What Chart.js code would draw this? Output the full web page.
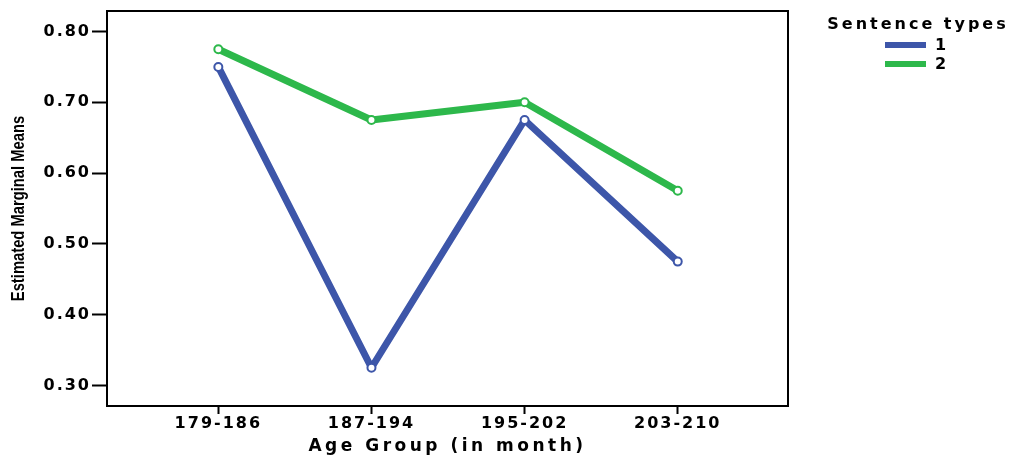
<!DOCTYPE html>
<html lang="en"><head>
<meta charset="UTF-8" />
<title>Estimated Marginal Means</title>
<script src="https://cdn.jsdelivr.net/npm/chart.js"></script>
<style>
  * { margin: 0; padding: 0; box-sizing: border-box; }
  body { background: #fff; width: 1012px; height: 455px; overflow: hidden; }
  #wrap { position: relative; width: 1012px; height: 455px; }
</style>
</head>
<body>
<div id="wrap"><canvas id="emmChart" width="1012" height="455"></canvas></div>
<script>
  const ageGroups = ['179-186', '187-194', '195-202', '203-210'];
  const sentenceType1 = [0.75, 0.325, 0.675, 0.475];
  const sentenceType2 = [0.775, 0.675, 0.70, 0.575];
  const yTicks = [0.30, 0.40, 0.50, 0.60, 0.70, 0.80];
  const seriesNames = ['1', '2'];
  const seriesColors = ['#3d56a9', '#2db84b'];

  const tickFont = { family: 'DejaVu Sans', size: 16, weight: 'bold' };

  // box around plot, wide-spaced text, y title and legend
  const frame = {
    id: 'frame',
    beforeDraw(chart) { chart.ctx.letterSpacing = '3.5px'; },
    beforeDatasetsDraw(chart) {
      const { ctx, chartArea: a } = chart;
      ctx.save();
      ctx.strokeStyle = '#000';
      ctx.lineWidth = 2;
      ctx.strokeRect(a.left, a.top, a.right - a.left, a.bottom - a.top);
      ctx.restore();
    },
    afterDatasetsDraw(chart) { chart.ctx.letterSpacing = '2px'; },
    afterDraw(chart) {
      const { ctx, chartArea: a } = chart;
      ctx.save();
      ctx.letterSpacing = '0px';
      ctx.fillStyle = '#000';
      ctx.font = 'bold 18px "Liberation Sans"';
      ctx.textAlign = 'center';
      ctx.textBaseline = 'middle';
      ctx.translate(19, (a.top + a.bottom) / 2);
      ctx.rotate(-Math.PI / 2);
      ctx.scale(0.82, 1);
      ctx.fillText('Estimated Marginal Means', 0, 0);
      ctx.restore();

      ctx.save();
      ctx.letterSpacing = '3px';
      ctx.fillStyle = '#000';
      ctx.font = 'bold 16px "DejaVu Sans"';
      ctx.textAlign = 'center';
      ctx.textBaseline = 'middle';
      ctx.fillText('Sentence types', 918, 25);
      ctx.letterSpacing = '2px';
      ctx.textAlign = 'left';
      chart.data.datasets.forEach((ds, i) => {
        const y = 45 + i * 19;
        ctx.strokeStyle = ds.borderColor;
        ctx.lineWidth = 6;
        ctx.beginPath();
        ctx.moveTo(885, y);
        ctx.lineTo(926, y);
        ctx.stroke();
        ctx.fillText(ds.label, 935, y + 1);
      });
      ctx.restore();
      ctx.letterSpacing = '0px';
    }
  };

  new Chart(document.getElementById('emmChart'), {
    type: 'line',
    data: {
      datasets: [sentenceType1, sentenceType2].map((vals, k) => ({
        label: seriesNames[k],
        data: vals.map((v, i) => ({ x: i, y: v })),
        borderColor: seriesColors[k],
        borderWidth: 7,
        borderJoinStyle: 'round',
        borderCapStyle: 'round',
        backgroundColor: '#fff',
        pointRadius: 4,
        pointBorderWidth: 2,
        pointBackgroundColor: '#fff',
        pointBorderColor: seriesColors[k],
        tension: 0
      }))
    },
    options: {
      responsive: false,
      animation: false,
      layout: { padding: { top: 11, right: 224, bottom: 0, left: 0 } },
      plugins: { legend: { display: false }, tooltip: { enabled: false } },
      scales: {
        x: {
          type: 'linear', min: -0.727, max: 3.72,
          afterBuildTicks: s => { s.ticks = ageGroups.map((_, i) => ({ value: i })); },
          afterFit: s => { s.height = 49; },
          grid: { drawOnChartArea: false, drawTicks: true, tickLength: 8, tickWidth: 2, tickColor: '#000' },
          border: { display: false },
          ticks: { z: 1, padding: 0, color: '#000', font: tickFont, maxRotation: 0, autoSkip: false,
                   callback: v => ageGroups[v] ?? '' },
          title: { display: true, text: 'Age Group (in month)', color: '#000',
                   font: { family: 'DejaVu Sans', size: 17, weight: 'bold', lineHeight: 1 },
                   padding: { top: 0, bottom: 0 } }
        },
        y: {
          min: 0.271, max: 0.829,
          afterBuildTicks: s => { s.ticks = yTicks.map(v => ({ value: v })); },
          afterFit: s => { s.width = 107; },
          grid: { drawOnChartArea: false, drawTicks: true, tickLength: 15, tickWidth: 2, tickColor: '#000' },
          border: { display: false },
          ticks: { z: 1, padding: 1, color: '#000', font: tickFont, callback: v => v.toFixed(2) }
        }
      }
    },
    plugins: [frame]
  });
</script>
</body>
</html>
